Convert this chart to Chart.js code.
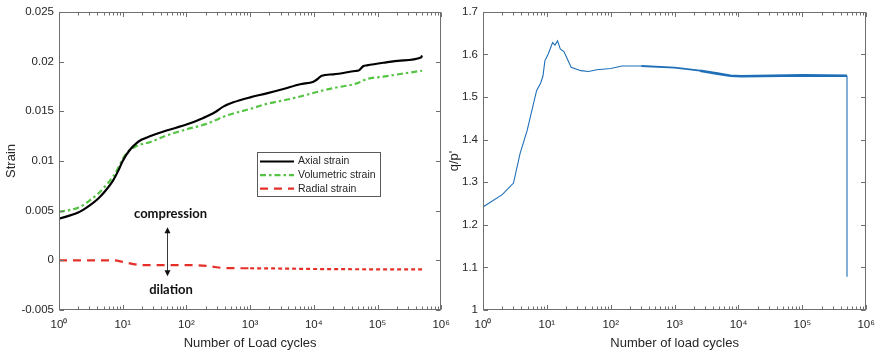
<!DOCTYPE html>
<html><head><meta charset="utf-8">
<script src="https://cdn.jsdelivr.net/npm/chart.js@4"></script>
<style>
html,body{margin:0;padding:0;background:#fff;}
#wrap{position:relative;width:880px;height:355px;overflow:hidden;background:#fff;}
canvas{position:absolute;top:0;}
</style></head><body>
<div id="wrap">
<canvas id="left" width="458" height="355" style="left:0"></canvas>
<canvas id="right" width="438" height="355" style="left:445px"></canvas>
</div>
<script>
// ---------- data ----------
const decadeExponents = [0, 1, 2, 3, 4, 5, 6];
const strainTickValues = [-0.005, 0, 0.005, 0.01, 0.015, 0.02, 0.025];
const strainTickLabels = ['-0.005', '0', '0.005', '0.01', '0.015', '0.02', '0.025'];
const ratioTickValues = [1, 1.1, 1.2, 1.3, 1.4, 1.5, 1.6, 1.7];
const ratioTickLabels = ['1', '1.1', '1.2', '1.3', '1.4', '1.5', '1.6', '1.7'];

const axialCycles = [1, 2, 3, 4.1, 5.2, 7, 8.5, 10, 12.9, 16.5, 20, 26.7, 48.8, 100, 184, 280, 379, 545, 1000, 1820, 3330, 6090, 9860, 11500, 13300, 20400, 44700, 50300, 60300, 68000, 123000, 227000, 480000, 500000];
const axialStrain = [0.0042, 0.0048, 0.0055, 0.0062, 0.0069, 0.0080, 0.0090, 0.0100, 0.0111, 0.0118, 0.01215, 0.01248, 0.01306, 0.01366, 0.01433, 0.0149, 0.01547, 0.0159, 0.0164, 0.0168, 0.01724, 0.01772, 0.01798, 0.01825, 0.01858, 0.01872, 0.01905, 0.0191, 0.01955, 0.01962, 0.01988, 0.0201, 0.0204, 0.02062];

const volCycles = [1, 2, 3, 4.1, 5.2, 7, 8.5, 10, 12, 16.5, 26.7, 48.8, 100, 207, 428, 1000, 1820, 4240, 9860, 13300, 20400, 47400, 68000, 123000, 227000, 500000];
const volStrain = [0.00487, 0.0053, 0.006, 0.0067, 0.0074, 0.0084, 0.0093, 0.0102, 0.0109, 0.0115, 0.01189, 0.01256, 0.01318, 0.01373, 0.01457, 0.01524, 0.01574, 0.01624, 0.01684, 0.01707, 0.01734, 0.01781, 0.01825, 0.01848, 0.01875, 0.01908];

const radCycles = [1, 7, 10, 15.5, 20, 105, 218, 400, 1000, 13300, 500000];
const radStrain = [0, 0, -0.00015, -0.0004, -0.00048, -0.00048, -0.00058, -0.00078, -0.0008, -0.00088, -0.00092];

const qpCycles = [1, 2, 3, 3.8, 4.9, 6.9, 8.0, 8.7, 9.3, 10.5, 12.3, 13.4, 14.7, 16.2, 18.5, 21, 24, 34, 45, 60, 100, 150, 300, 1000, 2500, 4700, 7500, 11000, 100000, 500000, 500000];
const qpRatio = [1.242, 1.271, 1.298, 1.367, 1.421, 1.515, 1.533, 1.55, 1.585, 1.601, 1.628, 1.622, 1.632, 1.613, 1.607, 1.589, 1.570, 1.562, 1.560, 1.564, 1.567, 1.573, 1.573, 1.569, 1.562, 1.555, 1.550, 1.549, 1.551, 1.550, 1.078];

// annotation anchor (data coordinates)
const arrowCycle = 50;
const arrowTop = 0.00333, arrowBottom = -0.0016;
const compressionY = 0.00463, dilationY = -0.003;

// ---------- helpers ----------
const SUP = {'0':'\u2070','1':'\u00B9','2':'\u00B2','3':'\u00B3','4':'\u2074','5':'\u2075','6':'\u2076'};
const pts = (xs, ys) => xs.map((x, i) => ({x, y: ys[i]}));
const TICK_FONT = {family: "'Liberation Sans', Arial, sans-serif", size: 11.5};
const TITLE_FONT = {family: "'Liberation Sans', Arial, sans-serif", size: 13};
const TXT = '#262626';
const AXC = '#6f6f6f';

function logTicks(scale) {
  const t = [];
  decadeExponents.forEach((e, i) => {
    t.push({value: Math.pow(10, e), major: true, exp: e});
    if (i < decadeExponents.length - 1) for (let m = 2; m <= 9; m++) t.push({value: m * Math.pow(10, e), major: false});
  });
  scale.ticks = t;
}
function xAxis(title) {
  return {
    type: 'logarithmic', min: 1, max: 1e6,
    grid: {display: false, drawTicks: false}, border: {display: false},
    afterBuildTicks: logTicks,
    afterFit(s) { s.height = 45; },
    ticks: {
      autoSkip: false, maxRotation: 0, minRotation: 0, padding: 8, color: TXT, font: TICK_FONT,
      callback(v, i, ticks) { const t = ticks[i]; if (!t.major) return ''; return '10' + SUP[String(Math.round(Math.log10(v)))]; }
    },
    title: {display: true, text: title, color: TXT, font: TITLE_FONT, padding: {top: 0, bottom: 4}}
  };
}
function yAxis(min, max, vals, labels, title, width, tpad) {
  return {
    type: 'linear', min, max,
    grid: {display: false, drawTicks: false}, border: {display: false},
    afterBuildTicks(s) { s.ticks = vals.map(v => ({value: v, major: true})); },
    afterFit(s) { s.width = width; },
    ticks: {padding: 5, color: TXT, font: TICK_FONT, callback(v, i) { return labels[i]; }},
    title: {display: true, text: title, color: TXT, font: TITLE_FONT, padding: {top: tpad, bottom: 0}}
  };
}

const boxPlugin = {
  id: 'matlabBox',
  afterDraw(chart) {
    const {ctx, chartArea: a, scales} = chart;
    const L = Math.round(a.left) + 0.5, R = Math.round(a.right) - 0.5, T = Math.round(a.top) + 0.5, B = Math.round(a.bottom) - 0.5;
    ctx.save();
    ctx.strokeStyle = AXC; ctx.lineWidth = 1;
    ctx.beginPath();
    scales.x.ticks.forEach(t => {
      const px = Math.round(scales.x.getPixelForValue(t.value)) + 0.5;
      const len = t.major ? 4.5 : 3;
      ctx.moveTo(px, B); ctx.lineTo(px, B - len);
      ctx.moveTo(px, T); ctx.lineTo(px, T + len);
    });
    scales.y.ticks.forEach(t => {
      const py = Math.round(scales.y.getPixelForValue(t.value)) + 0.5;
      ctx.moveTo(L, py); ctx.lineTo(L + 4.5, py);
      ctx.moveTo(R, py); ctx.lineTo(R - 4.5, py);
    });
    ctx.stroke();
    ctx.strokeRect(L, T, R - L, B - T);
    ctx.restore();
  }
};

const legendPlugin = {
  id: 'insideLegend',
  afterDraw(chart) {
    const {ctx} = chart;
    const bx = 257, by = 152, bw = 123, bh = 44;
    ctx.save();
    ctx.fillStyle = '#fff'; ctx.fillRect(bx, by, bw, bh);
    ctx.strokeStyle = '#5a5a5a'; ctx.lineWidth = 1;
    ctx.strokeRect(bx + 0.5, by + 0.5, bw, bh);
    ctx.font = "10.5px 'Liberation Sans', Arial, sans-serif";
    ctx.textBaseline = 'middle';
    chart.data.datasets.forEach((ds, i) => {
      const y = by + 9.5 + i * 13.6;
      ctx.strokeStyle = ds.borderColor; ctx.lineWidth = ds.borderWidth;
      ctx.setLineDash(ds.borderDash || []);
      ctx.beginPath(); ctx.moveTo(bx + 3, y); ctx.lineTo(bx + 37, y); ctx.stroke();
      ctx.setLineDash([]);
      ctx.fillStyle = TXT; ctx.fillText(ds.label, bx + 41, y);
    });
    ctx.restore();
  }
};

const annotPlugin = {
  id: 'annot',
  afterDraw(chart) {
    const {ctx, scales: {x, y}} = chart;
    const ax = Math.round(x.getPixelForValue(arrowCycle)) + 0.5;
    const y1 = y.getPixelForValue(arrowTop), y2 = y.getPixelForValue(arrowBottom);
    ctx.save();
    ctx.strokeStyle = '#3a3a3a'; ctx.fillStyle = '#111'; ctx.lineWidth = 1;
    ctx.beginPath(); ctx.moveTo(ax, y1 + 5); ctx.lineTo(ax, y2 - 5); ctx.stroke();
    ctx.beginPath(); ctx.moveTo(ax, y1); ctx.lineTo(ax - 3, y1 + 6); ctx.lineTo(ax + 3, y1 + 6); ctx.closePath(); ctx.fill();
    ctx.beginPath(); ctx.moveTo(ax, y2); ctx.lineTo(ax - 3, y2 - 6); ctx.lineTo(ax + 3, y2 - 6); ctx.closePath(); ctx.fill();
    ctx.font = "bold 13px Lato, 'Open Sans', sans-serif";
    ctx.textAlign = 'center'; ctx.textBaseline = 'middle'; ctx.fillStyle = '#111';
    ctx.fillText('compression', ax + 3, y.getPixelForValue(compressionY));
    ctx.fillText('dilation', ax + 3.5, y.getPixelForValue(dilationY));
    ctx.restore();
  }
};

Chart.defaults.font.family = "'Liberation Sans', Arial, sans-serif";

new Chart(document.getElementById('left'), {
  type: 'line',
  data: {datasets: [
    {label: 'Axial strain', data: pts(axialCycles, axialStrain), borderColor: '#000000', borderWidth: 2.2, pointRadius: 0, cubicInterpolationMode: 'monotone'},
    {label: 'Volumetric strain', data: pts(volCycles, volStrain), borderColor: '#55c443', borderWidth: 2.2, borderDash: [6, 3, 2.5, 3], pointRadius: 0, cubicInterpolationMode: 'monotone'},
    {label: 'Radial strain', data: pts(radCycles, radStrain), borderColor: '#e5302a', borderWidth: 2.2, borderDash: [8, 6], pointRadius: 0, cubicInterpolationMode: 'monotone',
      segment: {borderDash: c => c.p0.parsed.x >= 1000 ? [4, 3] : [8, 6]}}
  ]},
  options: {
    responsive: false, animation: false, devicePixelRatio: 1,
    layout: {padding: {top: 11, right: 11, left: 0, bottom: 0}},
    plugins: {legend: {display: false}, tooltip: {enabled: false}},
    scales: {x: xAxis('Number of Load cycles'), y: yAxis(-0.005, 0.025, strainTickValues, strainTickLabels, 'Strain', 59, 4)}
  },
  plugins: [boxPlugin, legendPlugin, annotPlugin]
});

new Chart(document.getElementById('right'), {
  type: 'line',
  data: {datasets: [
    {label: "q/p'", data: pts(qpCycles, qpRatio), borderColor: '#1f6fb8', borderWidth: 1.1, pointRadius: 0, tension: 0,
      segment: {borderWidth: c => {
        const a = c.p0.parsed.x, b = c.p1.parsed.x;
        if (a === b) return 1.1;
        if (a >= 2500) return 2.6;
        if (a >= 300) return 1.8;
        return 1.1;
      }}}
  ]},
  options: {
    responsive: false, animation: false, devicePixelRatio: 1,
    layout: {padding: {top: 11, right: 15, left: 0, bottom: 0}},
    plugins: {legend: {display: false}, tooltip: {enabled: false}},
    scales: {x: xAxis('Number of load cycles'), y: yAxis(1, 1.7, ratioTickValues, ratioTickLabels, "q/p'", 38, 2)}
  },
  plugins: [boxPlugin]
});
</script>
</body></html>
